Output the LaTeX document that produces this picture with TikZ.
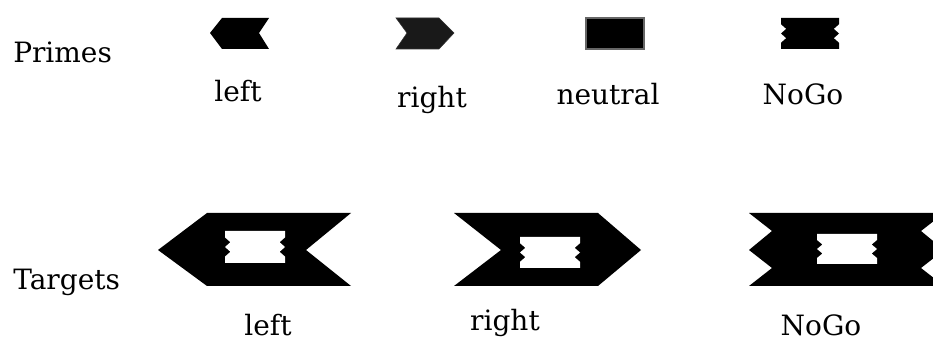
\documentclass[tikz,border=0pt]{standalone}
\usepackage{fontspec}
\setmainfont{DejaVu Serif}
\begin{document}
\begin{tikzpicture}[x=0.75pt,y=-0.75pt,
  lbl/.style={font=\fontsize{21}{25}\selectfont, inner sep=0pt, anchor=base},
  rowlbl/.style={font=\fontsize{21}{25}\selectfont, inner sep=0pt, anchor=base west},
  zz/.pic={\fill[pic actions] (0,0) -- (1,0) -- (1,0.2) -- (0.91,0.35) -- (1,0.5) -- (0.91,0.65) -- (1,0.8) -- (1,1) -- (0,1) -- (0,0.8) -- (0.09,0.65) -- (0,0.5) -- (0.09,0.35) -- (0,0.2) -- cycle;}]
\useasboundingbox (0,0) rectangle (933,342);
% row labels
\node[rowlbl] (primes) at (13,63) {Primes};
\node[rowlbl] (targets) at (13,290) {Targets};
% primes
\fill[black] (210,33) -- (222,18) -- (269,18) -- (259,33) -- (269,49) -- (222,49) -- cycle;
\filldraw[fill=black!90, draw=black!80, line width=0.4pt] (396,18) -- (439,18) -- (454,33) -- (439,49) -- (396,49) -- (407,33) -- cycle;
\filldraw[fill=black, draw=black!60, line width=0.8pt] (586,18) rectangle (644,49);
\pic[fill=black, shift={(781,18)}, xscale=58, yscale=31] {zz};
\node[lbl] (l1) at (238,102) {left};
\node[lbl] (r1) at (432,108) {right};
\node[lbl] (n1) at (608,105) {neutral};
\node[lbl] (g1) at (803,105) {NoGo};
% targets
\fill[black] (158,250) -- (207,213) -- (351,213) -- (306,250) -- (351,286) -- (207,286) -- cycle;
\pic[fill=white, shift={(225,231)}, xscale=60, yscale=32] {zz};
\fill[black] (454,213) -- (598,213) -- (641,250) -- (598,286) -- (454,286) -- (501,250) -- cycle;
\pic[fill=white, shift={(520,237)}, xscale=60, yscale=31] {zz};
\fill[black] (749,213) -- (944,213) -- (921,231) -- (944,250) -- (921,268) -- (944,286) -- (749,286) -- (772,268) -- (749,250) -- (772,231) -- cycle;
\pic[fill=white, shift={(817,234)}, xscale=60, yscale=30] {zz};
\node[lbl] (l2) at (268,336) {left};
\node[lbl] (r2) at (505,331) {right};
\node[lbl] (g2) at (821,335) {NoGo};
\end{tikzpicture}
\end{document}
